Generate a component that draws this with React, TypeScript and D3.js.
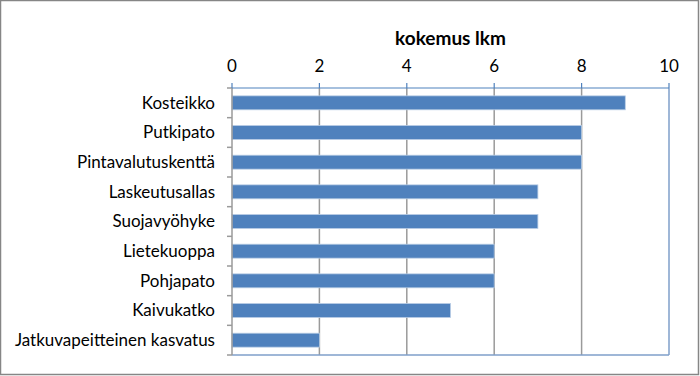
import React from "react";
import * as d3 from "d3";

const categories = [
  "Kosteikko",
  "Putkipato",
  "Pintavalutuskenttä",
  "Laskeutusallas",
  "Suojavyöhyke",
  "Lietekuoppa",
  "Pohjapato",
  "Kaivukatko",
  "Jatkuvapeitteinen kasvatus",
];
const values = [9, 8, 8, 7, 7, 6, 6, 5, 2];
const tickValues = [0, 2, 4, 6, 8, 10];
const title = "kokemus lkm";

const W = 700;
const H = 376;
const left = 232;
const right = 669;
const top = 88;
const bottom = 355;
const font = "Lato, 'Open Sans', sans-serif";

export default function App() {
  const x = d3.scaleLinear().domain([0, 10]).range([left, right]);
  const y = d3.scaleBand<string>().domain(categories).range([top, bottom]).paddingInner(0.53).paddingOuter(0.265);
  const band = (bottom - top) / categories.length;
  return (
    <svg width={W} height={H} style={{ position: "absolute", left: 0, top: 0 }}>
      <rect x={0.5} y={0.5} width={W - 2} height={H - 2} fill="#fff" stroke="#868686" strokeWidth={1.5} />
      {tickValues.filter((t) => t > 0 && t < 10).map((t) => (
        <line key={"g" + t} x1={x(t)} x2={x(t)} y1={top} y2={bottom} stroke="#9a9a9a" strokeWidth={1.5} />
      ))}
      <line x1={right} x2={right} y1={top} y2={bottom} stroke="#7f9fca" strokeWidth={1.5} />
      <line x1={left} x2={right} y1={bottom} y2={bottom} stroke="#7f9fca" strokeWidth={1.5} />
      {categories.map((c, i) => (
        <rect
          key={c}
          x={x(0)}
          y={y(c)}
          width={x(values[i]) - x(0)}
          height={y.bandwidth()}
          fill="#4f81bd"
          stroke="#b9cde5"
          strokeWidth={0.8}
        />
      ))}
      <line x1={left} x2={left} y1={top} y2={bottom} stroke="#9a9a9a" strokeWidth={1.5} />
      {d3.range(categories.length + 1).map((i) => (
        <line key={"lt" + i} x1={left - 5} x2={left} y1={top + i * band} y2={top + i * band} stroke="#9a9a9a" strokeWidth={1.5} />
      ))}
      <line x1={left} x2={right} y1={top} y2={top} stroke="#4f81bd" strokeWidth={1.2} />
      {tickValues.map((t) => (
        <line key={"tt" + t} x1={x(t)} x2={x(t)} y1={top - 5} y2={top} stroke="#4f81bd" strokeWidth={1.2} />
      ))}
      {tickValues.map((t) => (
        <text key={"tl" + t} x={x(t)} y={72} textAnchor="middle" fontFamily={font} fontSize={17} fill="#000">
          {t}
        </text>
      ))}
      {categories.map((c) => (
        <text
          key={"cl" + c}
          x={215}
          y={(y(c) as number) + y.bandwidth() / 2}
          dy="0.35em"
          textAnchor="end"
          fontFamily={font}
          fontSize={17}
          fill="#000"
        >
          {c}
        </text>
      ))}
      <text x={(left + right) / 2} y={45} textAnchor="middle" fontFamily={font} fontSize={19} fontWeight="bold" fill="#000">
        {title}
      </text>
    </svg>
  );
}
